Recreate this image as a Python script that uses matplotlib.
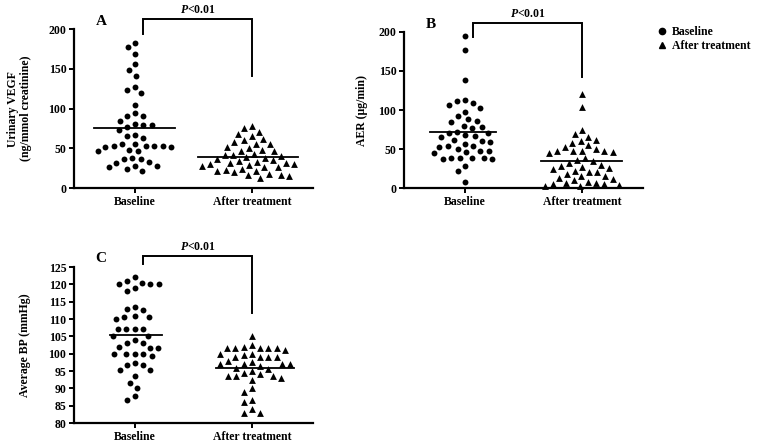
import matplotlib
matplotlib.use('Agg')
import matplotlib.pyplot as plt
from matplotlib.lines import Line2D
import numpy as np

plt.rcParams['font.family'] = ['Liberation Serif', 'DejaVu Serif']
plt.rcParams['font.weight'] = 'bold'
plt.rcParams['mathtext.fontset'] = 'custom'
plt.rcParams['mathtext.rm'] = 'Liberation Serif:bold'
plt.rcParams['mathtext.it'] = 'Liberation Serif:bold:italic'

groups = ['Baseline', 'After treatment']

# panel A: urinary VEGF
vegf_base = [183, 177, 169, 156, 148, 141, 127, 123, 120, 105, 94, 91, 91, 84, 80, 79, 79, 77, 73,
             67, 65, 63, 56, 56, 53, 53, 53, 53, 52, 52, 48, 47, 46, 38, 36, 36, 33, 32, 28, 28, 27, 24, 22]
vegf_after = [78, 75, 71, 68, 65, 62, 60, 58, 56, 55, 52, 51, 48, 47, 46, 43, 42, 41, 40, 39, 38, 36,
              35, 34, 33, 32, 31, 30, 30, 29, 28, 27, 26, 24, 23, 22, 21, 20, 18, 17, 16, 15, 13]

# panel B: AER
aer_base = [195, 177, 138, 113, 111, 109, 106, 103, 98, 92, 88, 86, 85, 79, 78, 77, 72, 71, 70, 68, 67,
            66, 62, 60, 59, 57, 54, 54, 53, 50, 48, 47, 46, 45, 39, 38, 38, 38, 37, 37, 28, 22, 8]
aer_after = [120, 104, 74, 69, 66, 62, 60, 58, 55, 53, 50, 48, 48, 48, 47, 46, 45, 38, 36, 34, 32, 30,
             28, 27, 26, 25, 22, 20, 20, 18, 16, 15, 13, 12, 10, 8, 7, 6, 5, 5, 4, 3, 3]

# panel C: average BP
bp_base = [122, 121, 120.5, 120, 120, 120, 119, 118, 113.5, 113, 112.5, 111, 110.7, 110.7, 110, 107.2,
           107, 107, 107, 105, 105, 104, 103, 103, 102, 101.7, 101.7, 100, 100, 100, 100, 99.2, 97.3,
           96.6, 96.6, 95.2, 95.2, 93.5, 91.5, 90.2, 87.7, 86.7]
bp_after = [105, 102.5, 102, 101.5, 101.5, 101.5, 101.5, 101.5, 101, 100, 100, 99.5, 99, 99, 99, 99, 98,
            97.5, 97, 97, 97, 97, 96.5, 96, 95.5, 95, 94.5, 94, 93.5, 93.5, 93.5, 93, 92.5, 90, 89, 86.5,
            86, 84, 83, 83]

PX_PER_CAT = 117.0


def swarm(vals, ppu, diam=8.5):
    # simple beeswarm in pixel space, points keep their y and move sideways
    ys = np.asarray(vals, dtype=float) * ppu
    xs = np.zeros(len(ys))
    done = []
    for i in np.argsort(-ys, kind='stable'):
        y = ys[i]
        near = [j for j in done if abs(ys[j] - y) < diam]
        cands = [0.0]
        for j in near:
            dx = np.sqrt(diam ** 2 - (ys[j] - y) ** 2)
            cands += [xs[j] - dx, xs[j] + dx]
        cands.sort(key=lambda c: (round(abs(c), 3), c))
        for c in cands:
            if all((xs[j] - c) ** 2 + (ys[j] - y) ** 2 >= diam ** 2 - 1e-6 for j in near):
                xs[i] = c
                break
        done.append(i)
    return xs / PX_PER_CAT


def panel(ax, base, after, ylim, yticks, ylabel, letter, bracket, label_x):
    ppu = ax.get_position().height * 445 / (ylim[1] - ylim[0])
    for i, (vals, mk, ms) in enumerate([(base, 'o', 18), (after, '^', 24)]):
        vals = np.array(vals, dtype=float)
        offs = swarm(vals - ylim[0], ppu)
        ax.scatter(i + offs, vals, marker=mk, s=ms, color='black', linewidths=0, clip_on=False, zorder=3)
        m = vals.mean()
        ax.plot([i + offs.min() - 0.03, i + offs.max() + 0.03], [m, m], color='black', lw=1.3, zorder=4)
    ax.set_xlim(-0.52, 1.52)
    ax.set_ylim(*ylim)
    ax.set_yticks(yticks)
    ax.set_xticks([0, 1])
    ax.set_xticklabels(groups)
    for s in ['top', 'right']:
        ax.spines[s].set_visible(False)
    for s in ['left', 'bottom']:
        ax.spines[s].set_linewidth(1.6)
    ax.tick_params(width=1.4, length=3.5, labelsize=8.5, pad=2)
    ax.set_ylabel(ylabel, fontsize=8.5, fontweight='bold', linespacing=1.15)
    ax.yaxis.set_label_coords(label_x, 0.5)
    # significance bracket
    top, left_end, right_end = bracket
    ax.plot([0.07, 0.07, 1.0, 1.0], [left_end, top, top, right_end], color='black', lw=1.4,
            clip_on=False, solid_joinstyle='miter')
    span = ylim[1] - ylim[0]
    ax.text(0.535, top + span * 0.02, r'$P$<0.01', ha='center', va='bottom', fontsize=8.5)
    ax.text(-0.29, top - span * 0.015, letter, ha='center', va='center', fontsize=11, fontweight='bold')


fig = plt.figure(figsize=(7.6, 4.45), dpi=100)
ax_a = fig.add_axes([0.0974, 0.5775, 0.3145, 0.357])
ax_b = fig.add_axes([0.5316, 0.5775, 0.3145, 0.3506])
ax_c = fig.add_axes([0.0974, 0.0494, 0.3145, 0.3506])

panel(ax_a, vegf_base, vegf_after, (0, 200), [0, 50, 100, 150, 200],
      'Urinary VEGF\n(ng/mmol creatinine)', 'A', (212.6, 193.7, 141), -0.175)
panel(ax_b, aer_base, aer_after, (0, 200), [0, 50, 100, 150, 200],
      'AER (μg/min)', 'B', (212, 193, 142), -0.15)
panel(ax_c, bp_base, bp_after, (80, 125), list(range(80, 126, 5)),
      'Average BP (mmHg)', 'C', (128.1, 126, 111.8), -0.18)

handles = [Line2D([], [], marker='o', ls='none', color='black', markersize=4.5),
           Line2D([], [], marker='^', ls='none', color='black', markersize=5)]
fig.legend(handles, groups, loc='upper left', bbox_to_anchor=(0.855, 0.955), frameon=False,
           fontsize=8.5, handletextpad=0.4, labelspacing=0.15, handlelength=1.0, borderpad=0)

fig.savefig('out.png', dpi=100)
